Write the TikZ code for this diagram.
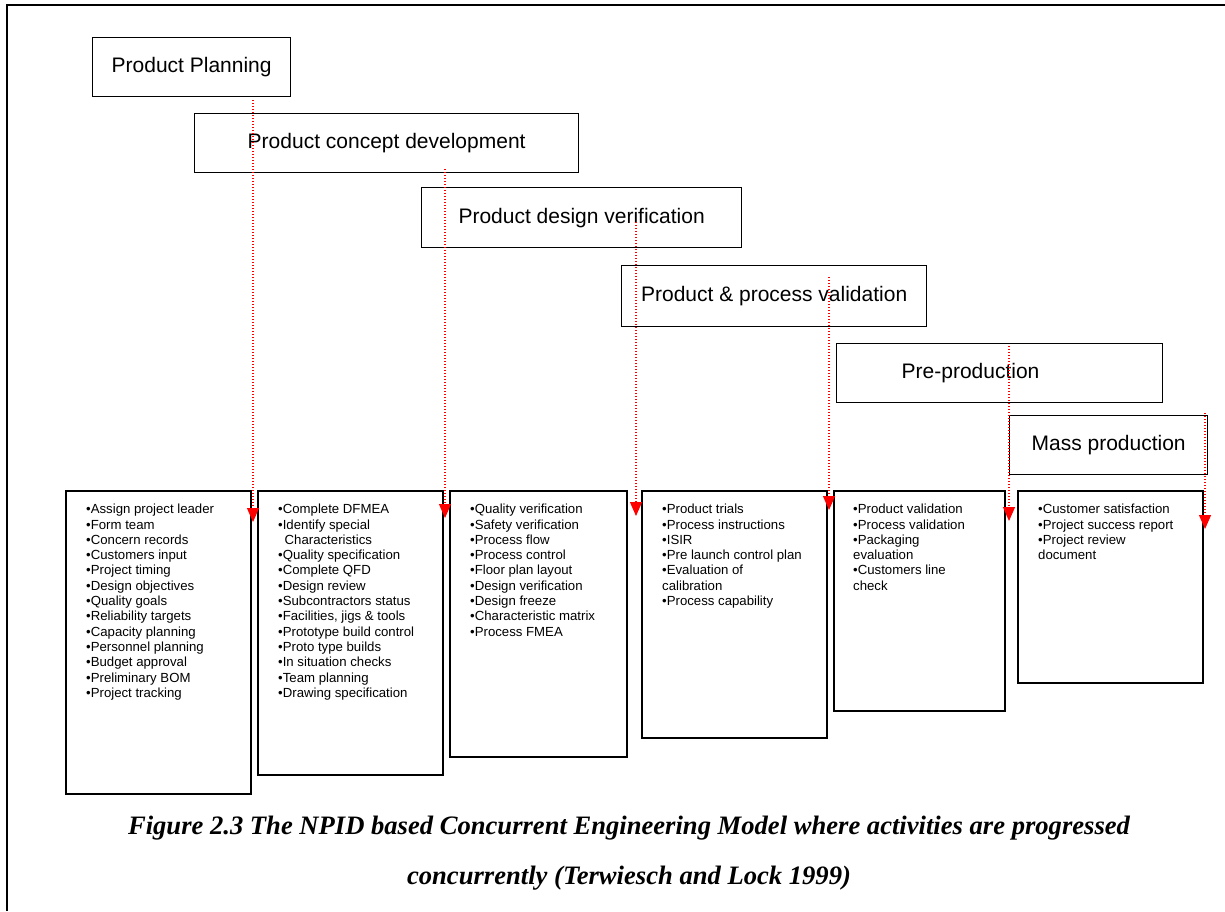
\documentclass[tikz,border=0pt]{standalone}
\usepackage{fontspec}
\setmainfont{Liberation Sans}
\newfontfamily\capfont{Liberation Serif}
\usetikzlibrary{calc, arrows.meta}

\tikzset{
    phase/.style={draw, line width=1.3pt, anchor=north west, inner sep=0pt,
        font=\fontsize{21}{25}\selectfont},
    listbox/.style={draw, line width=1.6pt, anchor=north west, inner sep=0pt},
    listtext/.style={anchor=north west, align=left, inner sep=0pt,
        font=\fontsize{13.2}{15.3}\selectfont},
    flow/.style={red, line width=1.2pt, dash pattern=on 1.4pt off 1.6pt,
        -{Triangle[width=12pt,length=14pt]}},
}

\begin{document}
\begin{tikzpicture}[x=1pt, y=-1pt]
        \useasboundingbox (0,0) rectangle (1225,911);
        \draw[line width=2pt] (6.5,911) -- (6.5,5) -- (1225,5);

        \node[phase, minimum width=198pt, minimum height=59pt] (plan) at (92,37) {Product Planning};
        \node[phase, minimum width=384pt, minimum height=59pt] (concept) at (194,113) {Product concept development};
        \node[phase, minimum width=320pt, minimum height=60pt] (design) at (421,187) {Product design verification};
        \node[phase, minimum width=305pt, minimum height=61pt] (validation) at (621,265) {Product \& process validation};
        \node[phase, minimum width=326pt, minimum height=59pt, text width=196pt, align=left, inner xsep=65pt] (preprod) at (836,343) {Pre-production};
        \node[phase, minimum width=198pt, minimum height=59pt] (mass) at (1009,415) {Mass production};

        \node[listbox, minimum width=185pt, minimum height=303pt] (planbox) at (65,490) {};
        \node[listbox, minimum width=185pt, minimum height=284pt] (conceptbox) at (257,490) {};
        \node[listbox, minimum width=177pt, minimum height=266pt] (designbox) at (449,490) {};
        \node[listbox, minimum width=185pt, minimum height=247pt] (validationbox) at (641,490) {};
        \node[listbox, minimum width=171pt, minimum height=220pt] (preprodbox) at (833,490) {};
        \node[listbox, minimum width=185pt, minimum height=192pt] (massbox) at (1017,490) {};

        \node[listtext] (plantext) at ($(planbox.north west)+(21,14)$) {%
            •Assign project leader\\•Form team\\•Concern records\\•Customers input\\%
            •Project timing\\•Design objectives\\•Quality goals\\•Reliability targets\\%
            •Capacity planning\\•Personnel planning\\•Budget approval\\•Preliminary BOM\\%
            •Project tracking};
        \node[listtext] (concepttext) at ($(conceptbox.north west)+(21,14)$) {%
            •Complete DFMEA\\•Identify special\\\hspace*{6.5pt}Characteristics\\%
            •Quality specification\\•Complete QFD\\•Design review\\•Subcontractors status\\%
            •Facilities, jigs \& tools\\•Prototype build control\\•Proto type builds\\%
            •In situation checks\\•Team planning\\•Drawing specification};
        \node[listtext] (designtext) at ($(designbox.north west)+(21,14)$) {%
            •Quality verification\\•Safety verification\\•Process flow\\•Process control\\%
            •Floor plan layout\\•Design verification\\•Design freeze\\%
            •Characteristic matrix\\•Process FMEA};
        \node[listtext] (validationtext) at ($(validationbox.north west)+(21,14)$) {%
            •Product trials\\•Process instructions\\•ISIR\\•Pre launch control plan\\%
            •Evaluation of\\calibration\\•Process capability};
        \node[listtext] (preprodtext) at ($(preprodbox.north west)+(20,14)$) {%
            •Product validation\\•Process validation\\•Packaging\\evaluation\\%
            •Customers line\\check};
        \node[listtext] (masstext) at ($(massbox.north west)+(21,14)$) {%
            •Customer satisfaction\\•Project success report\\•Project review\\document};

        \foreach \n/\x/\ya/\yb in {plan/253/100/522, concept/445/169/518, design/636/222/516,
                validation/829/277/510, preprod/1009/346/521, mass/1205/413/529}{
            \coordinate (\n-out) at (\x,\ya);
            \coordinate (\n-in) at (\x,\yb);
            \draw[flow] (\n-out) -- (\n-in);
        }

        \node[anchor=north, align=center, font={\capfont\fontsize{26.6}{50}\selectfont\bfseries\itshape}] (caption) at (629,812.5)
            {Figure 2.3 The NPID based Concurrent Engineering Model where activities are progressed\\concurrently (Terwiesch and Lock 1999)};
    \end{tikzpicture}
\end{document}
